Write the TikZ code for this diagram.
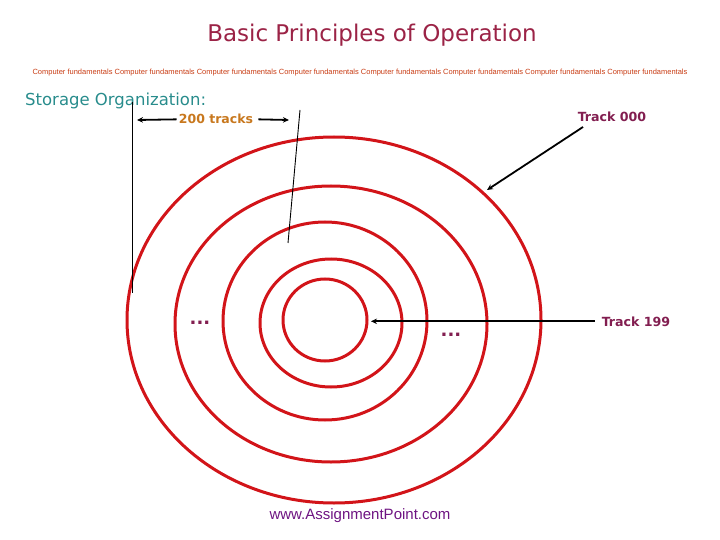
\documentclass[tikz,border=0pt]{standalone}
\usepackage{fontspec}
\setmainfont{DejaVu Sans}
\newfontfamily\arialf{Liberation Sans}
\usetikzlibrary{arrows.meta}
\definecolor{titlecol}{RGB}{155,35,70}
\definecolor{smallcol}{RGB}{200,60,20}
\definecolor{tealcol}{RGB}{40,140,140}
\definecolor{orangecol}{RGB}{200,120,30}
\definecolor{maroon}{RGB}{130,30,80}
\definecolor{wwwcol}{RGB}{110,20,130}
\definecolor{diskred}{RGB}{210,20,25}
\tikzset{
  txt/.style={inner sep=0pt, anchor=base},
  disk/.style={draw=diskred, line width=3pt},
  arr/.style={draw=black, line width=1.8pt, -{Stealth[length=6pt,width=5.5pt]}},
  thinline/.style={draw=black, line width=0.9pt},
}
\begin{document}
\begin{tikzpicture}[x=1pt,y=-1pt]
\useasboundingbox (0,0) rectangle (720,540);
% texts
\node[txt, text=titlecol, font=\fontsize{23}{26}\selectfont] (title) at (372,42) {Basic Principles of Operation};
\node[txt, text=smallcol, font=\arialf\fontsize{7.5}{8}\selectfont] (cf) at (360,75) {Computer fundamentals Computer fundamentals Computer fundamentals Computer fundamentals Computer fundamentals Computer fundamentals Computer fundamentals Computer fundamentals};
\node[txt, anchor=base west, text=tealcol, font=\fontsize{16.5}{18}\selectfont] (so) at (25,106) {Storage Organization:};
\node[txt, text=orangecol, font=\bfseries\fontsize{12.5}{14}\selectfont] (tracks) at (216,124) {200 tracks};
\node[txt, text=maroon, font=\bfseries\fontsize{12.6}{14}\selectfont] (t000) at (612,122) {Track 000};
\node[txt, text=maroon, font=\bfseries\fontsize{12.6}{14}\selectfont] (t199) at (636,326) {Track 199};
\node[txt, text=maroon, font=\bfseries\fontsize{18}{20}\selectfont] (d1) at (200,324) {...};
\node[txt, text=maroon, font=\bfseries\fontsize{18}{20}\selectfont] (d2) at (451,336) {...};
\node[txt, text=wwwcol, font=\arialf\fontsize{15}{16}\selectfont] (www) at (360,519) {www.AssignmentPoint.com};
% disk tracks
\draw[disk] (334,320) ellipse [x radius=207, y radius=183];
\draw[disk] (331,324) ellipse [x radius=156, y radius=138];
\draw[disk] (325,321) ellipse [x radius=102, y radius=99];
\draw[disk] (331,323) ellipse [x radius=71, y radius=64];
\draw[disk] (325,320) ellipse [x radius=42, y radius=41];
% coordinates
\coordinate (tl) at (137,120);
\coordinate (tr) at (289,120);
\coordinate (v1a) at (132,102);
\coordinate (v1b) at (132,293);
\coordinate (v2a) at (300,110);
\coordinate (v2b) at (288,243);
\coordinate (s000) at (583,127);
\coordinate (e000) at (487,190);
\coordinate (e199) at (371,320);
% connectors
\draw[arr] (tracks.west) ++(-2,0) -- (tl);
\draw[arr] (tracks.east) ++(5,0) -- (tr);
\draw[thinline] (v1a) -- (v1b);
\draw[thinline] (v2a) -- (v2b);
\draw[arr] (s000) -- (e000);
\draw[arr] (t199.west) ++(-7,0) -- (t199.west -| e199);
\end{tikzpicture}
\end{document}
